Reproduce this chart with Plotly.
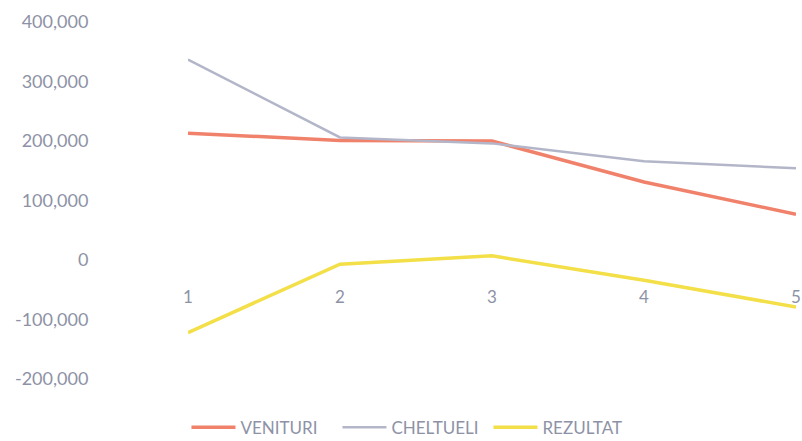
import plotly.graph_objects as go

# Periods and yearly series
periods = [1, 2, 3, 4, 5]
venituri = [213000, 201000, 200000, 131000, 77000]
cheltueli = [337000, 206000, 196000, 166000, 154000]
rezultat = [-122000, -7000, 7000, -34000, -79000]

y_ticks = [-200000, -100000, 0, 100000, 200000, 300000, 400000]
y_labels = ["-200,000", "-100,000", "0", "100,000", "200,000", "300,000", "400,000"]

label_color = "#8e92a6"
font_family = "Lato, 'Open Sans', sans-serif"

fig = go.Figure()
fig.add_trace(go.Scatter(x=periods, y=venituri, mode="lines", name="VENITURI",
                         line=dict(color="#f0826c", width=3.5)))
fig.add_trace(go.Scatter(x=periods, y=cheltueli, mode="lines", name="CHELTUELI",
                         line=dict(color="#b3b6c9", width=2.5)))
fig.add_trace(go.Scatter(x=periods, y=rezultat, mode="lines", name="REZULTAT",
                         line=dict(color="#f3df48", width=3.5)))

y_min, y_max = -200000, 400000
zero_pos = (0 - y_min) / (y_max - y_min)

fig.update_layout(
    width=802, height=441,
    margin=dict(l=188, r=6, t=22, b=62, autoexpand=False),
    paper_bgcolor="white", plot_bgcolor="white",
    font=dict(family=font_family, color=label_color, size=17),
    showlegend=True,
    legend=dict(orientation="h", xref="container", yref="container",
                x=0.2325, xanchor="left", y=0.03, yanchor="middle",
                font=dict(size=17, color=label_color), itemwidth=44,
                entrywidthmode="pixels", entrywidth=92, tracegroupgap=0),
    xaxis=dict(range=[1, 5], tickvals=periods, ticktext=[str(p) for p in periods],
               showgrid=False, zeroline=False, showline=False,
               anchor="free", position=zero_pos,
               ticks="outside", ticklen=22, tickcolor="rgba(0,0,0,0)",
               tickfont=dict(size=17, color=label_color)),
    yaxis=dict(range=[y_min, y_max], tickvals=y_ticks, ticktext=y_labels,
               showgrid=False, zeroline=False, showline=False,
               ticks="outside", ticklen=95, tickcolor="rgba(0,0,0,0)",
               tickfont=dict(size=18, color=label_color)),
)

fig.write_html("out.html")
